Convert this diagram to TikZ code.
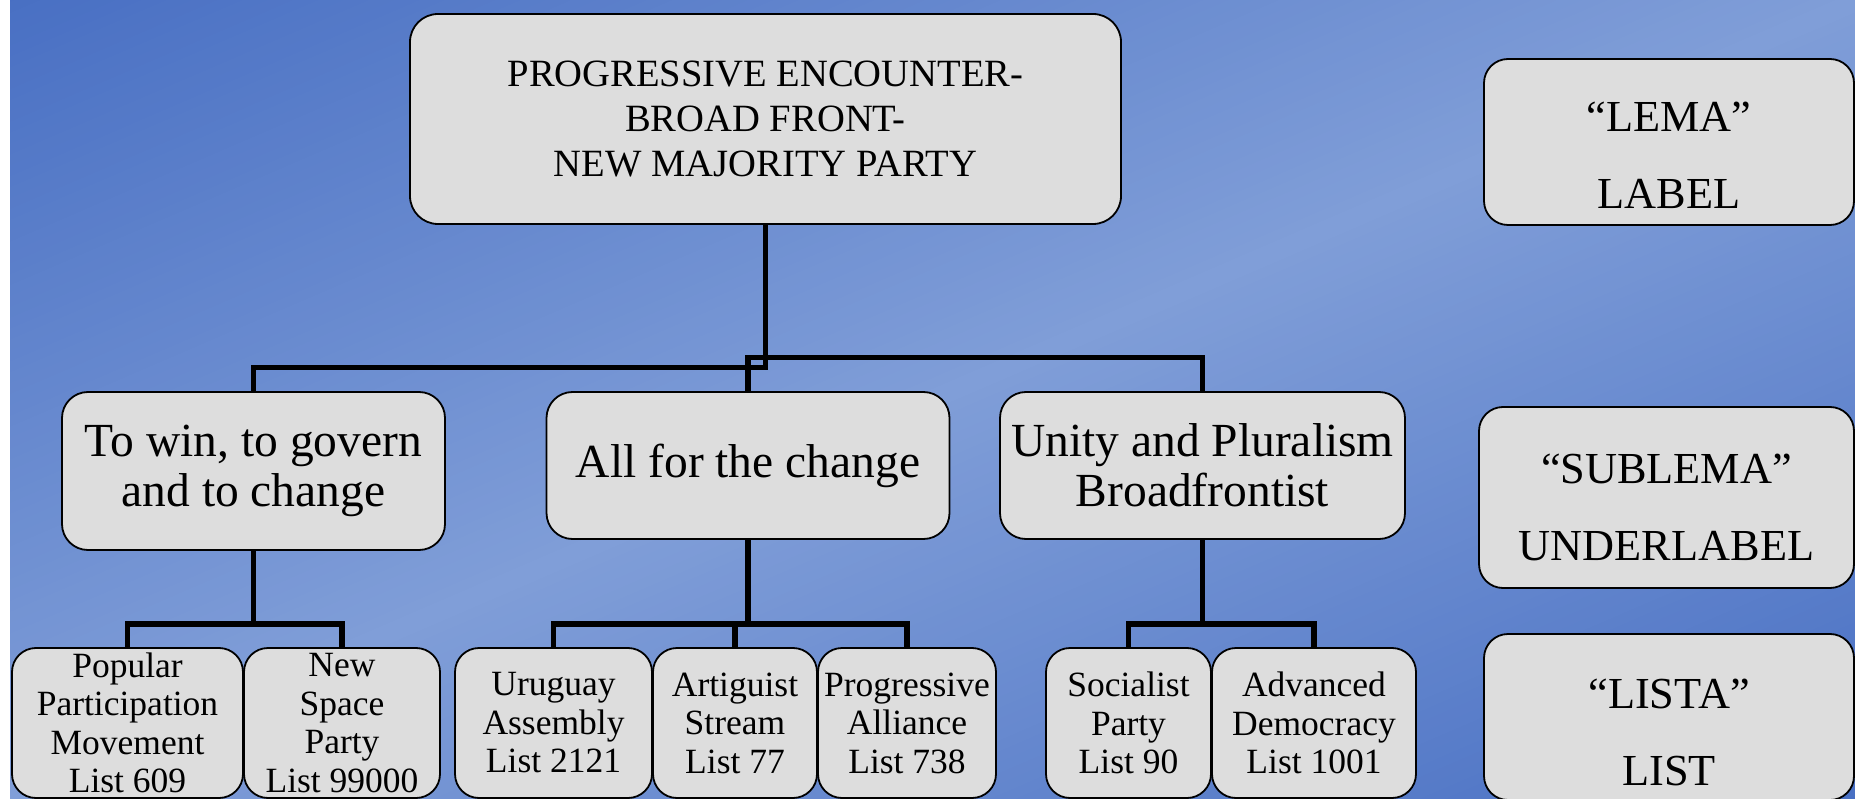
\documentclass[tikz,border=0pt]{standalone}
\usepackage{fontspec}
\setmainfont{Liberation Serif}
\definecolor{bgdark}{RGB}{72,111,195}
\definecolor{bglight}{RGB}{128,158,216}
\definecolor{boxfill}{RGB}{221,221,221}
\tikzset{
  box/.style={draw=black, line width=1.8pt, fill=boxfill, rounded corners=#1, inner sep=0pt, align=center, text=black},
  box/.default=24pt,
  conn/.style={draw=black, line width=5.5pt, line join=miter},
  topfont/.style={font=\fontsize{38.6}{45}\selectfont},
  midfont/.style={font=\fontsize{47.5}{49.5}\selectfont},
  leaffont/.style={font=\fontsize{35.5}{38.5}\selectfont},
  legfont/.style={font=\fontsize{44.3}{77}\selectfont, align=center},
}
\begin{document}
\begin{tikzpicture}[x=1pt, y=-1pt]
\useasboundingbox (0,0) rectangle (1855,799);
\fill[white] (0,0) rectangle (1855,799);
\begin{scope}
  \clip (10,0) rectangle (1855,799);
  \begin{scope}[shift={(932.5,399.5)}, rotate=23.3]
    \foreach \s in {-760,-750,...,750}{
      \pgfmathsetmacro{\p}{100*(1-min(1,abs(\s+5)/740))}
      \fill[bglight!\p!bgdark] (-1700,\s) rectangle (1700,\s+11);
    }
  \end{scope}
\end{scope}

% level 1
\node[box=28pt, topfont, minimum width=711pt, minimum height=210pt] (top) at (765.5,119)
  {PROGRESSIVE ENCOUNTER-\\BROAD FRONT-\\NEW MAJORITY PARTY};

% level 2
\node[box=26pt, midfont, minimum width=383pt, minimum height=158pt] (A) at (253.5,471)
  {To win, to govern\\and to change};
\node[box=26pt, midfont, minimum width=403pt, minimum height=147pt] (B) at (748,465.5)
  {All for the change};
\node[box=26pt, midfont, minimum width=405pt, minimum height=147pt] (C) at (1202.5,465.5)
  {Unity and Pluralism\\Broadfrontist};

% level 3
\node[box=24pt, leaffont, minimum width=231pt, minimum height=150pt] (n1) at (127.5,723)
  {Popular\\Participation\\Movement\\List 609};
\node[box=24pt, leaffont, minimum width=196pt, minimum height=150pt] (n2) at (342,723)
  {New\\Space\\Party\\List 99000};
\node[box=24pt, leaffont, minimum width=197pt, minimum height=150pt] (n3) at (553.5,723)
  {Uruguay\\Assembly\\List 2121};
\node[box=24pt, leaffont, minimum width=164pt, minimum height=150pt] (n4) at (735,723)
  {Artiguist\\Stream\\List 77};
\node[box=24pt, leaffont, minimum width=178pt, minimum height=150pt] (n5) at (907,723)
  {Progressive\\Alliance\\List 738};
\node[box=24pt, leaffont, minimum width=165pt, minimum height=150pt] (n6) at (1128.5,723)
  {Socialist\\Party\\List 90};
\node[box=24pt, leaffont, minimum width=204pt, minimum height=150pt] (n7) at (1314,723)
  {Advanced\\Democracy\\List 1001};

% legend
\node[box=24pt, minimum width=370pt, minimum height=166pt,
      label={[legfont, yshift=-13pt]center:{“LEMA”\\LABEL}}] (lema) at (1669,142) {};
\node[box=24pt, minimum width=375pt, minimum height=181pt,
      label={[legfont, yshift=-10pt]center:{“SUBLEMA”\\UNDERLABEL}}] (sublema) at (1666.5,497.5) {};
\node[box=24pt, minimum width=370pt, minimum height=166pt,
      label={[legfont, yshift=-15pt]center:{“LISTA”\\LIST}}] (lista) at (1669,717) {};

% connector levels
\coordinate (yL) at (0,367.5);
\coordinate (yR) at (0,357.5);
\coordinate (yS) at (0,624);

\draw[conn] (top.south) -- (top.south |- yL) -| (A.north);
\draw[conn] (top.south) -- (top.south |- yR) -| (B.north);
\draw[conn] (top.south) -- (top.south |- yR) -| (C.north);

\draw[conn] (A.south) -- (A.south |- yS) -| (n1.north);
\draw[conn] (A.south) -- (A.south |- yS) -| (n2.north);

\draw[conn] (B.south) -- (B.south |- yS) -| (n3.north);
\draw[conn] (B.south) -- (B.south |- yS) -| (n4.north);
\draw[conn] (B.south) -- (B.south |- yS) -| (n5.north);

\draw[conn] (C.south) -- (C.south |- yS) -| (n6.north);
\draw[conn] (C.south) -- (C.south |- yS) -| (n7.north);
\end{tikzpicture}
\end{document}
